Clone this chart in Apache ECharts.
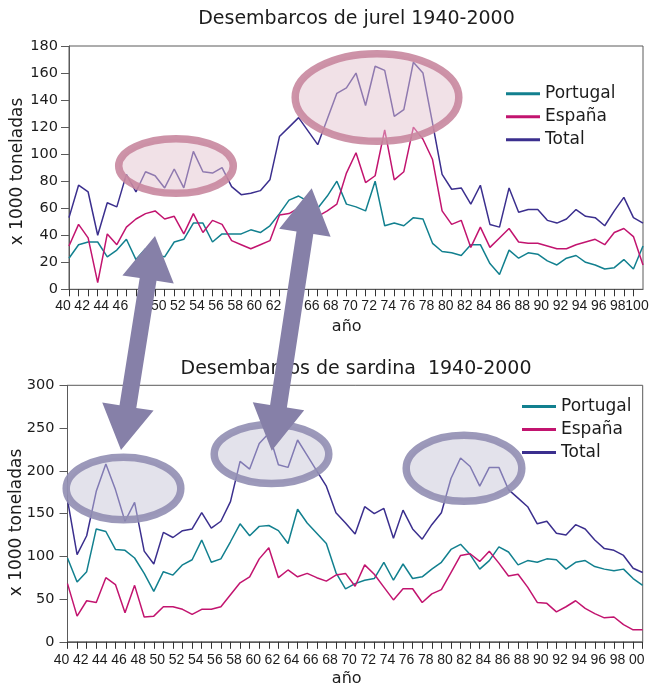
<!DOCTYPE html>
<html>
<head>
<meta charset="utf-8">
<title>Desembarcos de jurel y sardina 1940-2000</title>
<style>
html, body { margin: 0; padding: 0; background: #fff; }
#chart { width: 650px; height: 688px; }
</style>
</head>
<body>
<div id="chart"></div>
<script src="https://cdn.jsdelivr.net/npm/echarts@6/dist/echarts.min.js"></script>
<script type="text/javascript">

// categories: one per year
var years = [];
for (var y = 1940; y <= 2000; y++) years.push(String(y));

// jurel, x 1000 t
var jurelPortugal = [23,33,35,35,24,29,37,22,30,25, 24,35,37,49,49,35,41,41,41,44,
    42,47,56,66,69,65,60,69,80,63, 61,58,80,47,49,47,53,52,34,28,
    27,25,33,33,19,11,29,23,27,26, 21,18,23,25,20,18,15,16,22,15, 32];
var jurelEspana = [32,48,38,5,41,33,46,52,56,58, 52,54,41,56,42,51,48,36,33,30,
    33,36,55,56,60,57,54,58,63,86, 101,79,84,118,81,87,120,111,96,58,
    48,51,31,46,31,38,45,35,34,34, 32,30,30,33,35,37,33,42,45,39, 18];
var jurelTotal = [53,77,72,40,64,61,85,72,87,84, 75,89,75,102,87,86,90,76,70,71,
    73,81,113,120,127,117,107,126,145,149, 160,136,165,162,128,133,168,160,123,85,
    74,75,63,77,48,46,75,57,59,59, 51,49,52,59,54,53,47,58,68,53, 49];

// sardina, x 1000 t
var sardinaPortugal = [98,70,82,132,129,108,107,98,80,59, 82,78,90,96,119,93,97,117,138,124,
    135,136,130,115,155,139,127,115,81,62, 68,72,74,93,72,91,74,76,85,93,
    108,114,102,85,95,111,105,90,95,93, 97,96,85,93,95,88,85,83,85,74, 66];
var sardinaEspana = [68,30,48,46,75,67,34,66,29,30, 41,41,38,32,38,38,41,55,69,76,
    97,110,75,84,76,80,75,71,78,80, 65,90,79,64,49,62,62,46,56,61,
    81,101,103,94,106,92,77,79,64,46, 45,35,41,48,39,33,28,29,20,14, 14];
var sardinaTotal = [166,102,124,176,208,178,141,163,106,91, 128,122,130,132,151,133,141,164,211,202,
    232,244,207,204,236,218,200,182,151,139, 126,158,150,156,121,154,132,120,137,151,
    191,215,205,182,204,204,178,168,158,138, 141,127,125,137,132,119,109,107,101,86, 81];

// top chart: these year labels sit under the arrows in the original
var jurelHiddenLabels = ['1948', '1964'];
// top chart writes the last year as "100"
var jurelLastLabel = '100';

var seriesNames = ['Portugal', 'España', 'Total'];
var seriesColors = ['#12808f', '#c2146f', '#3b2f8e'];

var FONT = 'DejaVu Sans';
var AXIS_COLOR = '#5a5a5a';
var TEXT_COLOR = '#1c1c1c';

// double headed arrow as a polygon between two tips
function arrowPoints(x1, y1, x2, y2, shaftW, headLen, headW) {
    var dx = x2 - x1, dy = y2 - y1;
    var len = Math.sqrt(dx * dx + dy * dy);
    var ux = dx / len, uy = dy / len;
    var nx = -uy, ny = ux;
    var b1x = x1 + ux * headLen, b1y = y1 + uy * headLen;
    var b2x = x2 - ux * headLen, b2y = y2 - uy * headLen;
    var hs = shaftW / 2, hh = headW / 2;
    return [
        [x1, y1],
        [b1x + nx * hh, b1y + ny * hh],
        [b1x + nx * hs, b1y + ny * hs],
        [b2x + nx * hs, b2y + ny * hs],
        [b2x + nx * hh, b2y + ny * hh],
        [x2, y2],
        [b2x - nx * hh, b2y - ny * hh],
        [b2x - nx * hs, b2y - ny * hs],
        [b1x - nx * hs, b1y - ny * hs],
        [b1x - nx * hh, b1y - ny * hh]
    ];
}

function makeXAxis(gridIndex, fmt, margin, showMax) {
    return {
        type: 'category',
        gridIndex: gridIndex,
        data: years,
        boundaryGap: false,
        axisLine: { lineStyle: { color: AXIS_COLOR, width: 1 } },
        axisTick: { show: true, interval: 0, length: 7, lineStyle: { color: '#333' } },
        axisLabel: {
            interval: 1,
            margin: margin,
            showMinLabel: true,
            showMaxLabel: showMax,
            fontFamily: 'Liberation Sans',
            fontSize: 14,
            color: TEXT_COLOR,
            padding: [0, 12, 0, 0],
            formatter: fmt
        },
        splitLine: { show: false }
    };
}

function makeYAxis(gridIndex, max, interval, margin) {
    return {
        type: 'value',
        gridIndex: gridIndex,
        min: 0,
        max: max,
        interval: interval,
        axisLine: { show: true, lineStyle: { color: AXIS_COLOR, width: 1 } },
        axisTick: { show: true, length: 8, lineStyle: { color: AXIS_COLOR } },
        axisLabel: { margin: margin, fontFamily: FONT, fontSize: 14.5, color: TEXT_COLOR },
        splitLine: { show: false }
    };
}

function makeLegend(left, top) {
    return {
        data: seriesNames,
        orient: 'vertical',
        left: left,
        top: top,
        icon: 'rect',
        itemWidth: 34,
        itemHeight: 3,
        itemGap: 3,
        selectedMode: false,
        textStyle: { fontFamily: FONT, fontSize: 17, color: TEXT_COLOR, lineHeight: 20 }
    };
}

var dataSets = [
    [jurelPortugal, jurelEspana, jurelTotal],
    [sardinaPortugal, sardinaEspana, sardinaTotal]
];
var series = [];
for (var g = 0; g < 2; g++) {
    for (var s = 0; s < 3; s++) {
        series.push({
            name: seriesNames[s],
            type: 'line',
            xAxisIndex: g,
            yAxisIndex: g,
            data: dataSets[g][s],
            symbol: 'none',
            color: seriesColors[s],
            lineStyle: { width: 1.5, color: seriesColors[s] }
        });
    }
}

var pinkRing = 'rgba(200,135,158,0.9)', pinkFill = 'rgba(228,196,208,0.5)';
var greyRing = 'rgba(145,142,178,0.9)', greyFill = 'rgba(200,198,216,0.5)';
var arrowColor = '#8680a8';

function ellipse(cx, cy, rx, ry, stroke, fill) {
    return {
        type: 'ellipse', z: 100,
        shape: { cx: cx, cy: cy, rx: rx, ry: ry },
        style: { fill: fill, stroke: stroke, lineWidth: 7.5 }
    };
}
function label(text, x, y, size, rot, family) {
    return {
        type: 'text', z: 100, x: x, y: y, rotation: rot || 0,
        style: { text: text, fontFamily: family || FONT, fontSize: size, fill: TEXT_COLOR, align: 'center', verticalAlign: 'middle' }
    };
}

var graphics = [
    label('Desembarcos de jurel 1940-2000', 356.5, 19.5, 19),
    label('Desembarcos de sardina  1940-2000', 356, 369.5, 19),
    label('año', 346.7, 327, 16),
    label('año', 346.7, 679, 16),
    label('x 1000 toneladas', 17.5, 171.5, 17, Math.PI / 2),
    label('x 1000 toneladas', 17, 522.5, 17, Math.PI / 2),
    label(jurelLastLabel, 637, 306.5, 14, 0, 'Liberation Sans'),
    ellipse(176, 166, 57.3, 27.3, pinkRing, pinkFill),
    ellipse(377, 97.5, 81.8, 43.8, pinkRing, pinkFill),
    ellipse(123.5, 488.5, 57.3, 31.3, greyRing, greyFill),
    ellipse(271.5, 454, 57.3, 29.6, greyRing, greyFill),
    ellipse(464, 468.3, 57.8, 33, greyRing, greyFill),
    { type: 'polygon', z: 110, shape: { points: arrowPoints(155, 236, 121, 450, 17, 44, 52) }, style: { fill: arrowColor } },
    { type: 'polygon', z: 110, shape: { points: arrowPoints(311.7, 188.3, 271.7, 450.7, 17, 45, 52) }, style: { fill: arrowColor } }
];

var option = {
    animation: false,
    backgroundColor: '#fff',
    textStyle: { fontFamily: FONT },
    grid: [
        { left: 69, top: 46, width: 574, height: 243.3, show: true, borderColor: AXIS_COLOR, borderWidth: 1, backgroundColor: 'transparent', outerBoundsMode: 'none' },
        { left: 67.5, top: 385.3, width: 575.2, height: 256.5, show: true, borderColor: AXIS_COLOR, borderWidth: 1, backgroundColor: 'transparent', outerBoundsMode: 'none' }
    ],
    xAxis: [
        makeXAxis(0, function (v) {
            if (jurelHiddenLabels.indexOf(v) !== -1) return '';
            return String(Number(v) - 1900);
        }, 10, false),
        makeXAxis(1, function (v) { return v.slice(2); }, 11, true)
    ],
    yAxis: [
        makeYAxis(0, 180, 20, 11),
        makeYAxis(1, 300, 50, 13)
    ],
    legend: [makeLegend(501, 78.7), makeLegend(517, 391.5)],
    series: series,
    graphic: graphics
};

var myChart = echarts.init(document.getElementById('chart'), null, { renderer: 'canvas' });
myChart.setOption(option, true);
</script>
</body>
</html>
